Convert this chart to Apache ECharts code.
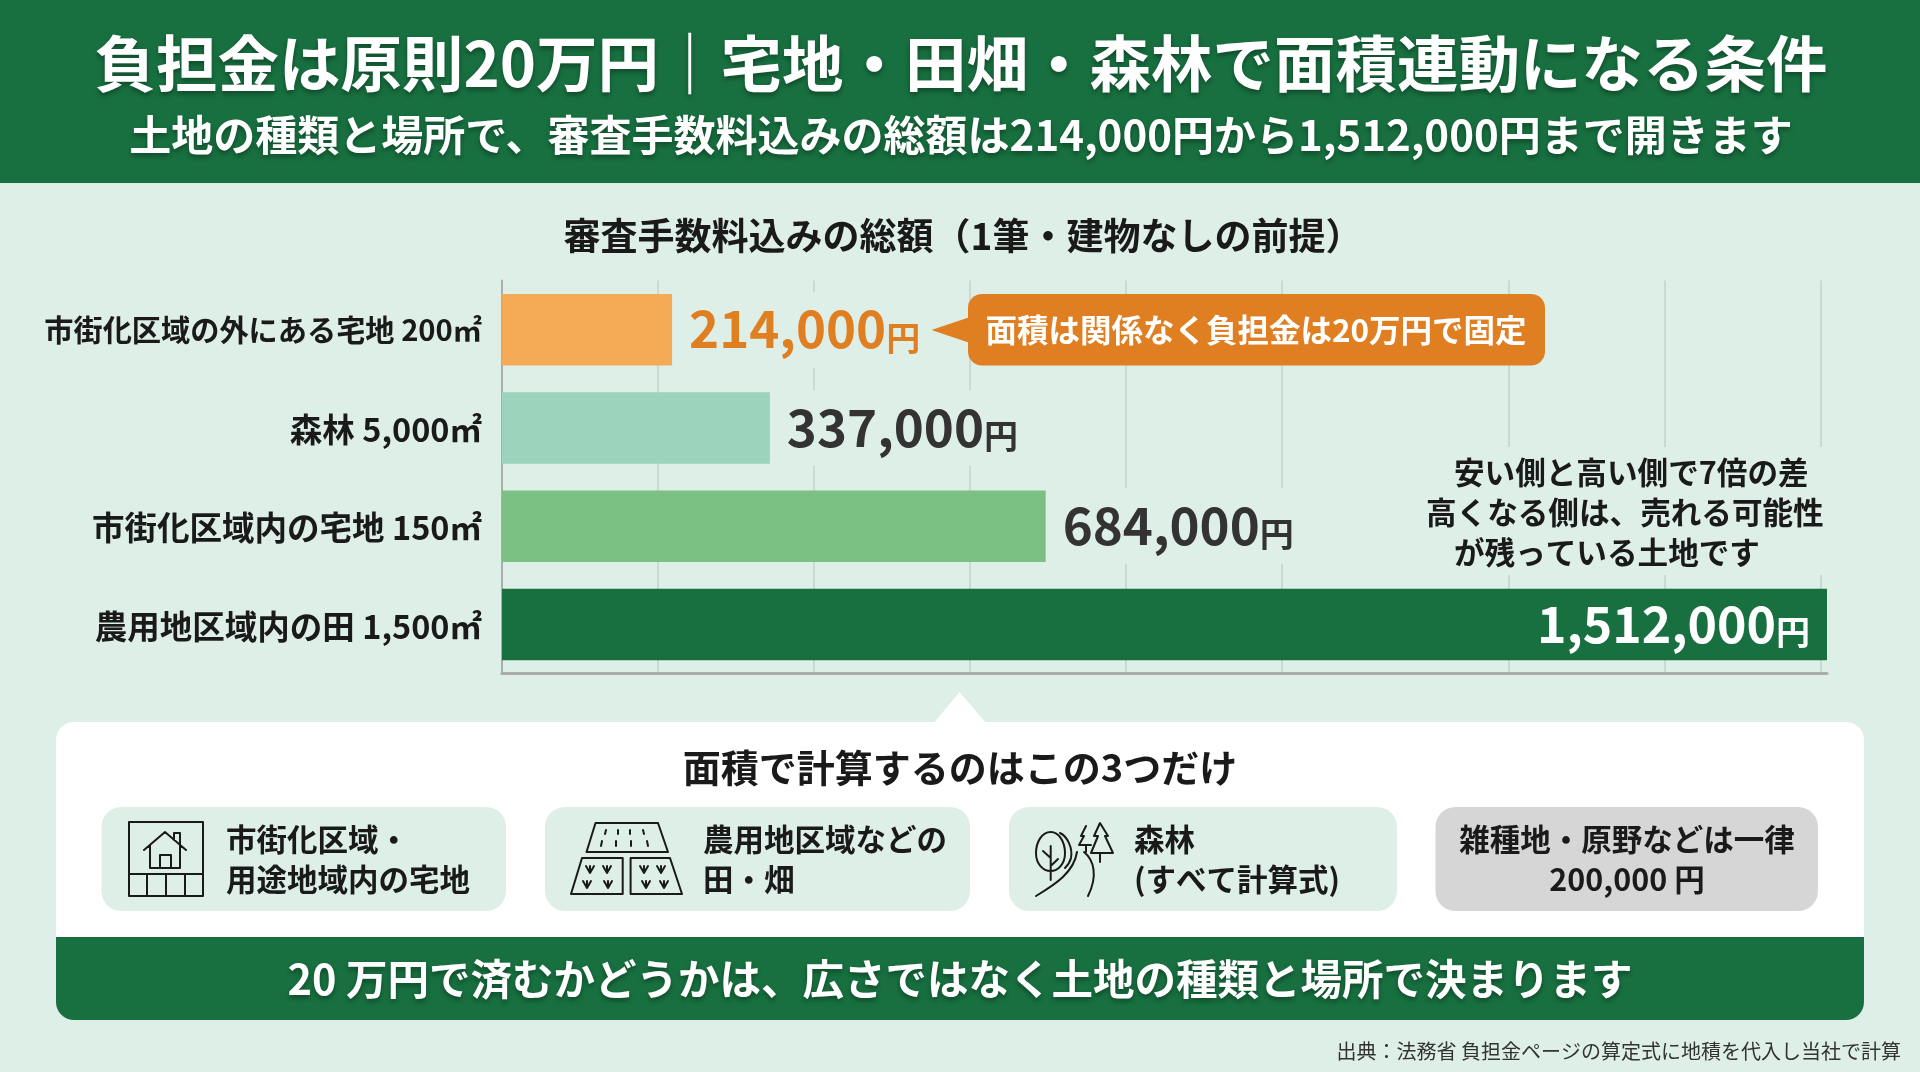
<!DOCTYPE html>
<html>
<head>
<meta charset="utf-8">
<title>負担金は原則20万円</title>
<script src="https://cdn.jsdelivr.net/npm/echarts@6/dist/echarts.min.js"></script>
<style>
	html, body { margin: 0; padding: 0; background: #deefe8; }
	#chart { width: 1920px; height: 1072px; }
</style>
</head>
<body>
<div id="chart"></div>
<script>
	"use strict";

	var categories = ['市街化区域の外にある宅地 200㎡', '森林 5,000㎡', '市街化区域内の宅地 150㎡', '農用地区域内の田 1,500㎡'];
	var totals = [214000, 337000, 684000, 1512000];
	var barColors = ['#f5ab56', '#9bd3bc', '#7bc183', '#187040'];
	var labelColors = ['#e07f22', '#333333', '#333333', '#ffffff'];
	// unlabelled gridlines
	var gridTicks = [0, 196000, 392000, 589000, 785000, 981000, 1111000, 1308000, 1504000];

	var FONT = '"Noto Sans CJK JP", "Noto Sans", sans-serif';
	var BG = '#deefe8';
	var GREEN = '#187040';

	function txt(text, x, y, size, color, opt) {
		opt = opt || {};
		return {
			type: 'text', x: x, y: y, z: 1,
			style: {
				text: text, x: 0, y: 0,
				fontFamily: FONT, fontSize: size, fontWeight: opt.weight || 700,
				fill: color, align: opt.align || 'left', verticalAlign: 'middle',
				textShadowColor: opt.shadow ? 'rgba(0,0,0,0.35)' : 'transparent',
				textShadowBlur: opt.shadow ? 5 : 0, textShadowOffsetY: opt.shadow ? 3 : 0
			}
		};
	}
	function box(x, y, w, h, r, color) {
		return { type: 'rect', z: 1, shape: { x: x, y: y, width: w, height: h, r: r }, style: { fill: color } };
	}
	function poly(points, color) {
		return { type: 'polygon', z: 1, shape: { points: points }, style: { fill: color } };
	}
	// graphic has no plain path type, so each icon is registered as a shape
	function icon(name, d) {
		echarts.graphic.registerShape(name, echarts.graphic.extendPath(d));
		return { type: name, z: 1, style: { fill: 'none', stroke: '#1a1a1a', lineWidth: 2, lineJoin: 'round', lineCap: 'round' } };
	}

	// house on a plot
	var iconHouse = 'M129 822H203V896H129ZM129 874H203M147 874V896M166 874V896M185 874V896'
		+ 'M144 850L165 832L186 850M150 845V868H180V845M160 868V855H171V868M174 840V833H180V848';
	// paddy + two fields
	var iconField = 'M595.5 823H658L668 852H586.5ZM582 858H622.7V894H571ZM630.6 858H670L682 894H630.6Z'
		+ 'M606 830L605 834M618 830V834M630 830V834M643 830L644 834M602 841L601 846M616 841V846M631 841V846M647 841L648 846'
		+ 'M586 866L590 873L594 866M590 873V866M603 866L607 873L611 866M607 873V866M583 881L587 888L591 881M587 888V881M604 881L608 888L612 881M608 888V881'
		+ 'M640 866L644 873L648 866M644 873V866M657 866L661 873L665 866M661 873V866M642 881L646 888L650 881M646 888V881M660 881L664 888L668 881M664 888V881';
	// trees and path
	var iconForest = 'M1050.7 832C1042 832 1036 842 1036 853C1036 864 1043 871 1050.7 871C1058 871 1065 864 1065 853C1065 842 1059 832 1050.7 832Z'
		+ 'M1050.7 846V880M1050.7 858L1043 851M1050.7 866L1058 859M1060 833C1067 836 1073 848 1071 858C1070 862 1068 865 1065 868'
		+ 'M1036 896C1056 884 1074 872 1077 852M1088 896C1098 876 1094 860 1084 852'
		+ 'M1100 823L1094 836H1098L1091 853H1113L1105 836H1108ZM1100 853V862'
		+ 'M1086 826L1081 836H1084L1079 845H1091M1086 845V852';

	var elements = [
		box(0, 0, 1920, 183, 0, GREEN),
		txt('負担金は原則20万円｜宅地・田畑・森林で面積連動になる条件', 961, 64, 61.5, '#ffffff', { align: 'center', shadow: true }),
		txt('土地の種類と場所で、審査手数料込みの総額は214,000円から1,512,000円まで開きます', 961, 135, 42, '#ffffff', { align: 'center', shadow: true }),
		txt('審査手数料込みの総額（1筆・建物なしの前提）', 963, 236, 37, '#1a1a1a', { align: 'center' }),

		// callout on the first bar
		poly([[931.5, 330], [970, 317], [970, 343]], '#e07f22'),
		box(968, 294, 577, 71.5, 14, '#e07f22'),
		txt('面積は関係なく負担金は20万円で固定', 1256, 330, 31.5, '#ffffff', { align: 'center' }),

		// note above the long bar, gridlines stop behind it
		box(1420, 447, 412, 128, 0, BG),
		txt('安い側と高い側で7倍の差', 1454, 472, 30.6, '#1a1a1a'),
		txt('高くなる側は、売れる可能性', 1426, 512, 30.6, '#1a1a1a'),
		txt('が残っている土地です', 1454, 552, 30.6, '#1a1a1a'),

		// lower panel
		poly([[959.5, 692], [933, 724], [987, 724]], '#ffffff'),
		box(56, 722, 1808, 298, 18, '#ffffff'),
		box(56, 937, 1808, 83, [0, 0, 18, 18], GREEN),
		txt('面積で計算するのはこの3つだけ', 960, 768, 38, '#1a1a1a', { align: 'center' }),

		box(101.5, 807, 404.5, 104, 20, '#deefe8'),
		box(545, 807, 425, 104, 20, '#deefe8'),
		box(1009, 807, 388, 104, 20, '#deefe8'),
		box(1435.5, 807, 382.5, 104, 20, '#d6d6d6'),
		icon('iconHouse', iconHouse), icon('iconField', iconField), icon('iconForest', iconForest),

		txt('市街化区域・', 226, 839, 30.5, '#1a1a1a'),
		txt('用途地域内の宅地', 226, 879, 30.5, '#1a1a1a'),
		txt('農用地区域などの', 703, 839, 30.5, '#1a1a1a'),
		txt('田・畑', 703, 879, 30.5, '#1a1a1a'),
		txt('森林', 1134, 839, 30.5, '#1a1a1a'),
		txt('(すべて計算式)', 1134, 879, 30.5, '#1a1a1a'),
		txt('雑種地・原野などは一律', 1627, 839, 30.5, '#1a1a1a', { align: 'center' }),
		txt('200,000 円', 1627, 879, 30.5, '#1a1a1a', { align: 'center' }),

		txt('20 万円で済むかどうかは、広さではなく土地の種類と場所で決まります', 960, 979, 41.5, '#ffffff', { align: 'center', shadow: true }),
		txt('出典：法務省 負担金ページの算定式に地積を代入し当社で計算', 1901, 1051, 20, '#333333', { align: 'right', weight: 400 })
	];

	var seriesData = totals.map(function (v, i) {
		var last = i === totals.length - 1;
		return {
			value: v,
			itemStyle: { color: barColors[i] },
			label: {
				position: last ? 'insideRight' : 'right',
				distance: 5,
				backgroundColor: last ? 'transparent' : BG,
				padding: [9, 12, 13, 12],
				rich: {
					n: { fontFamily: FONT, fontWeight: 700, fontSize: last ? 50 : 51, color: labelColors[i], verticalAlign: 'bottom', lineHeight: 54 },
					u: { fontFamily: FONT, fontWeight: 700, fontSize: 34, color: labelColors[i], verticalAlign: 'bottom', lineHeight: 48 }
				}
			}
		};
	});

	var chart = echarts.init(document.getElementById('chart'));
	chart.setOption({
		backgroundColor: BG,
		animation: false,
		graphic: { elements: elements },
		grid: { left: 502, top: 280.5, width: 1325, height: 393, containLabel: false },
		xAxis: {
			type: 'value',
			min: 0,
			max: 1512000,
			// the picture's gridlines open up between the 6th and 7th line
			breaks: [{ start: 981000, end: 1111000, gap: 285000 }],
			breakArea: { show: false },
			axisLabel: { show: false },
			axisTick: { show: false, customValues: gridTicks },
			axisLine: { show: true, breakLine: false, lineStyle: { color: '#a8aeab', width: 3 } },
			splitLine: { show: true, lineStyle: { color: '#c6d2cc', width: 1.5 } }
		},
		yAxis: {
			type: 'category',
			inverse: true,
			data: categories,
			axisTick: { show: false },
			axisLine: { show: true, lineStyle: { color: '#a8aeab', width: 2 } },
			axisLabel: {
				margin: 20,
				formatter: function (value, index) {
					return (index === 0 ? '{a|' : '{b|') + value + '}';
				},
				rich: {
					a: { fontFamily: FONT, fontWeight: 700, fontSize: 29.2, color: '#1a1a1a' },
					b: { fontFamily: FONT, fontWeight: 700, fontSize: 32.5, color: '#1a1a1a', padding: [4, 0, 0, 0] }
				}
			}
		},
		series: [{
			type: 'bar',
			barWidth: 71.5,
			data: seriesData,
			label: {
				show: true,
				formatter: function (p) {
					return '{n|' + p.value.toLocaleString('en-US') + '}{u|円}';
				}
			}
		}]
	});
</script>
</body>
</html>
